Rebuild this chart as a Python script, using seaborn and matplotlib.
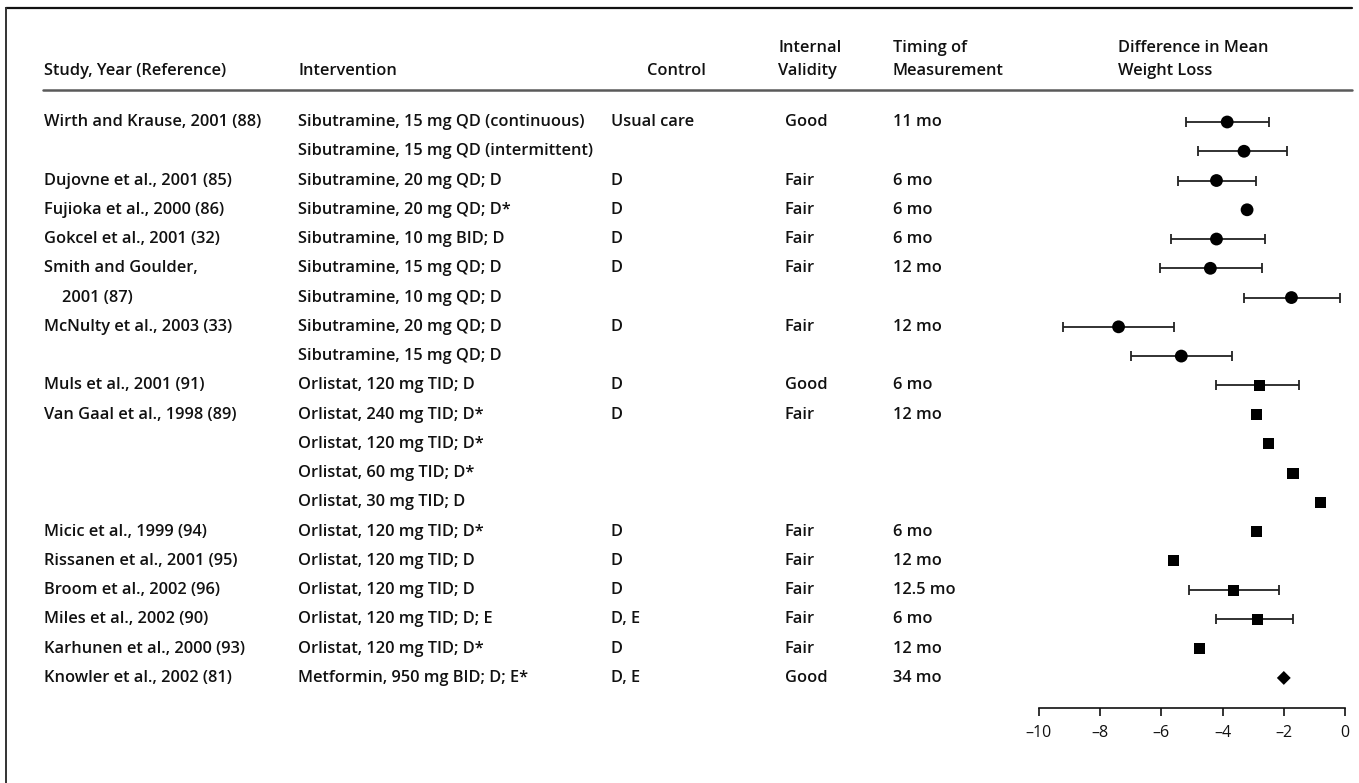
import numpy as np
import pandas as pd
import matplotlib
matplotlib.use("Agg")
import matplotlib.pyplot as plt
import matplotlib.transforms as mtransforms
from matplotlib.lines import Line2D
import seaborn as sns

# ---- table content -------------------------------------------------------
studies = [
    "Wirth and Krause, 2001 (88)", "", "Dujovne et al., 2001 (85)",
    "Fujioka et al., 2000 (86)", "Gokcel et al., 2001 (32)", "Smith and Goulder,",
    "2001 (87)", "McNulty et al., 2003 (33)", "", "Muls et al., 2001 (91)",
    "Van Gaal et al., 1998 (89)", "", "", "", "Micic et al., 1999 (94)",
    "Rissanen et al., 2001 (95)", "Broom et al., 2002 (96)", "Miles et al., 2002 (90)",
    "Karhunen et al., 2000 (93)", "Knowler et al., 2002 (81)",
]
study_indent = [0, 0, 0, 0, 0, 0, 1, 0, 0, 0, 0, 0, 0, 0, 0, 0, 0, 0, 0, 0]
interventions = [
    "Sibutramine, 15 mg QD (continuous)", "Sibutramine, 15 mg QD (intermittent)",
    "Sibutramine, 20 mg QD; D", "Sibutramine, 20 mg QD; D*", "Sibutramine, 10 mg BID; D",
    "Sibutramine, 15 mg QD; D", "Sibutramine, 10 mg QD; D", "Sibutramine, 20 mg QD; D",
    "Sibutramine, 15 mg QD; D", "Orlistat, 120 mg TID; D", "Orlistat, 240 mg TID; D*",
    "Orlistat, 120 mg TID; D*", "Orlistat, 60 mg TID; D*", "Orlistat, 30 mg TID; D",
    "Orlistat, 120 mg TID; D*", "Orlistat, 120 mg TID; D", "Orlistat, 120 mg TID; D",
    "Orlistat, 120 mg TID; D; E", "Orlistat, 120 mg TID; D*", "Metformin, 950 mg BID; D; E*",
]
controls = ["Usual care", "", "D", "D", "D", "D", "", "D", "", "D", "D", "", "", "",
            "D", "D", "D", "D, E", "D", "D, E"]
validity = ["Good", "", "Fair", "Fair", "Fair", "Fair", "", "Fair", "", "Good", "Fair",
            "", "", "", "Fair", "Fair", "Fair", "Fair", "Fair", "Good"]
timing = ["11 mo", "", "6 mo", "6 mo", "6 mo", "12 mo", "", "12 mo", "", "6 mo", "12 mo",
          "", "", "", "6 mo", "12 mo", "12.5 mo", "6 mo", "12 mo", "34 mo"]

# difference in mean weight loss (kg) with 95% CI where reported
diff = [-3.85, -3.3, -4.2, -3.2, -4.2, -4.4, -1.75, -7.4, -5.35, -2.8, -2.9, -2.5,
        -1.7, -0.8, -2.9, -5.6, -3.65, -2.85, -4.75, -2.0]
ci_low = [-5.2, -4.8, -5.45, np.nan, -5.7, -6.05, -3.3, -9.2, -7.0, -4.2, np.nan,
          np.nan, np.nan, np.nan, np.nan, np.nan, -5.1, -4.2, np.nan, np.nan]
ci_high = [-2.5, -1.9, -2.9, np.nan, -2.6, -2.7, -0.15, -5.6, -3.7, -1.5, np.nan,
           np.nan, np.nan, np.nan, np.nan, np.nan, -2.15, -1.7, np.nan, np.nan]

x_ticks = [-10, -8, -6, -4, -2, 0]

headers = [
    ("Study, Year (Reference)", 44),
    ("Intervention", 298),
    ("Control", 647),
    ("Internal\nValidity", 778),
    ("Timing of\nMeasurement", 893),
    ("Difference in Mean\nWeight Loss", 1118),
]

df = pd.DataFrame({
    "row": np.arange(len(diff)),
    "diff": diff,
    "lo": ci_low,
    "hi": ci_high,
    "drug": [s.split(",")[0] for s in interventions],
})

# ---- figure ----------------------------------------------------------------
sns.set_theme(style="white")
plt.rcParams["font.family"] = ["Open Sans", "DejaVu Sans"]

W, H = 1359, 783
fig = plt.figure(figsize=(W / 100, H / 100), dpi=100)
fig.patch.set_facecolor("white")


def fx(px):
    return px / W


def fy(py):
    return 1 - py / H


row0, row_step = 122.0, 29.26
ax_top, ax_bot = 91.0, 708.0
ax_left, ax_right = 1039.0, 1345.0
ax = fig.add_axes([fx(ax_left), fy(ax_bot), fx(ax_right) - fx(ax_left),
                   (ax_bot - ax_top) / H])
ax.set_xlim(-10, 0)
ax.set_ylim((ax_bot - row0) / row_step, (ax_top - row0) / row_step)

ink = "#111111"

# confidence intervals
ci = df.dropna(subset=["lo", "hi"])
ax.errorbar(ci["diff"], ci["row"],
            xerr=[ci["diff"] - ci["lo"], ci["hi"] - ci["diff"]],
            fmt="none", ecolor="#222222", elinewidth=1.3, capsize=3.3,
            capthick=1.3, zorder=2)

# point estimates, marker by drug
sns.scatterplot(data=df, x="diff", y="row", style="drug", size="drug",
                markers={"Sibutramine": "o", "Orlistat": "s", "Metformin": "D"},
                sizes={"Sibutramine": 85, "Orlistat": 64, "Metformin": 50},
                color="black", edgecolor="none", legend=False, ax=ax, zorder=3)

ax.set_xlabel("")
ax.set_ylabel("")
ax.set_yticks([])
ax.set_xticks(x_ticks)
ax.set_xticklabels([str(t).replace("-", "\u2013") for t in x_ticks])
for side in ("top", "right", "left"):
    ax.spines[side].set_visible(False)
ax.spines["bottom"].set_color(ink)
ax.spines["bottom"].set_linewidth(1.2)
ax.tick_params(axis="x", direction="out", length=6, width=1.2, color=ink,
               labelsize=11.5, labelcolor=ink, pad=6, bottom=True)
ax.patch.set_alpha(0)

# ---- table text -------------------------------------------------------------
row_tf = mtransforms.blended_transform_factory(fig.transFigure, ax.transData)
txt = dict(fontsize=11.8, fontweight="semibold", color=ink, va="center", ha="left")


def put_column(values, px, indent_px=None):
    for i, v in enumerate(values):
        if not v:
            continue
        x = px + (indent_px[i] if indent_px is not None else 0)
        fig.text(fx(x), i, v, transform=row_tf, **txt)


put_column(studies, 44, [18 * k for k in study_indent])
put_column(interventions, 298)
put_column(controls, 611)
put_column(validity, 785)
put_column(timing, 893)

for label, px in headers:
    lines = label.split("\n")
    ys = [71] if len(lines) == 1 else [48, 71]
    for line, py in zip(lines, ys):
        fig.text(fx(px), fy(py), line, **txt)

# frame and header rule
fig.add_artist(Line2D([fx(6), fx(1352)], [fy(8), fy(8)], color="#111111", lw=1.6))
fig.add_artist(Line2D([fx(6), fx(6)], [fy(8), fy(783)], color="#333333", lw=1.4))
fig.add_artist(Line2D([fx(43), fx(1352)], [fy(90), fy(90)], color="#5a5a5a", lw=1.8))

fig.savefig("out.png", dpi=100, facecolor="white")
